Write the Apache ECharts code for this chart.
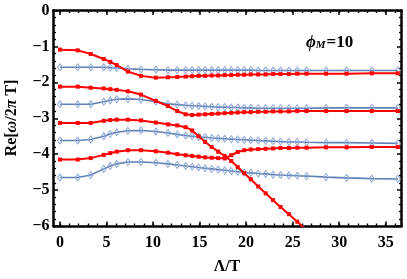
<!DOCTYPE html>
<html>
<head>
<meta charset="utf-8">
<script src="https://cdn.jsdelivr.net/npm/echarts@6/dist/echarts.min.js"></script>
<style>html,body{margin:0;padding:0;background:#fff}#c{width:407px;height:279px}</style>
</head>
<body>
<div id="c"></div>
<script>
const xValues = [0, 1.9, 3.3, 4.7, 5.4, 6.1, 7.3, 8.7, 10.3, 11.6, 12.6, 13.5, 14.2, 14.9, 15.6, 16.3, 17.0, 17.7, 18.4, 19.1, 19.8, 20.5, 21.3, 22.1, 22.9, 23.7, 24.6, 25.5, 26.5, 28.6, 30.8, 33.5, 36.3];

const blue1 = [-1.58,-1.58,-1.58,-1.58,-1.59,-1.60,-1.62,-1.64,-1.65,-1.66,-1.66,-1.66,-1.66,-1.66,-1.66,-1.66,-1.66,-1.66,-1.66,-1.66,-1.66,-1.66,-1.67,-1.67,-1.67,-1.67,-1.67,-1.67,-1.67,-1.67,-1.67,-1.67,-1.67];
const red1 = [-1.09,-1.11,-1.21,-1.35,-1.43,-1.52,-1.70,-1.82,-1.87,-1.86,-1.85,-1.84,-1.83,-1.82,-1.82,-1.81,-1.81,-1.80,-1.80,-1.79,-1.79,-1.78,-1.78,-1.78,-1.77,-1.77,-1.77,-1.76,-1.76,-1.76,-1.76,-1.75,-1.75];
const blue2 = [-2.61,-2.61,-2.61,-2.54,-2.50,-2.47,-2.46,-2.48,-2.54,-2.60,-2.62,-2.64,-2.65,-2.66,-2.67,-2.68,-2.69,-2.69,-2.70,-2.70,-2.71,-2.71,-2.72,-2.72,-2.72,-2.72,-2.72,-2.72,-2.72,-2.71,-2.71,-2.71,-2.71];
const red2 = [-2.12,-2.12,-2.15,-2.17,-2.19,-2.21,-2.25,-2.34,-2.52,-2.66,-2.80,-2.89,-2.91,-2.90,-2.89,-2.88,-2.87,-2.86,-2.85,-2.84,-2.83,-2.83,-2.82,-2.82,-2.81,-2.81,-2.81,-2.80,-2.80,-2.80,-2.80,-2.80,-2.80];
const blue3 = [-3.62,-3.62,-3.59,-3.50,-3.44,-3.39,-3.35,-3.34,-3.37,-3.41,-3.45,-3.48,-3.50,-3.52,-3.53,-3.55,-3.56,-3.57,-3.58,-3.59,-3.60,-3.61,-3.62,-3.63,-3.64,-3.65,-3.66,-3.66,-3.67,-3.68,-3.68,-3.69,-3.70];
const red3 = [-3.13,-3.13,-3.13,-3.07,-3.05,-3.04,-3.04,-3.06,-3.12,-3.17,-3.20,-3.25,-3.34,-3.50,-3.66,-3.80,-3.93,-4.05,-4.19,-4.36,-4.53,-4.70,-4.90,-5.09,-5.28,-5.47,-5.67,-5.88,-6.12,null,null,null,null];
const blue4 = [-4.65,-4.65,-4.58,-4.41,-4.33,-4.27,-4.22,-4.22,-4.24,-4.27,-4.30,-4.33,-4.35,-4.37,-4.39,-4.41,-4.43,-4.45,-4.47,-4.49,-4.51,-4.52,-4.54,-4.55,-4.57,-4.58,-4.59,-4.60,-4.61,-4.64,-4.66,-4.68,-4.69];
const red4 = [-4.15,-4.15,-4.11,-4.02,-3.97,-3.93,-3.89,-3.89,-3.92,-3.96,-4.00,-4.03,-4.05,-4.07,-4.09,-4.10,-4.11,-4.12,-4.03,-3.94,-3.89,-3.87,-3.86,-3.85,-3.84,-3.83,-3.83,-3.82,-3.82,-3.81,-3.81,-3.80,-3.80];

const xMajorTicks = [0, 5, 10, 15, 20, 25, 30, 35];
const xMinorTicks = [0,1,2,3,4,5,6,7,8,9,10,11,12,13,14,15,16,17,18,19,20,21,22,23,24,25,26,27,28,29,30,31,32,33,34,35,36];
const yTickLabels = [0, -1, -2, -3, -4, -5, -6];

const FONT = 'Liberation Serif';
const pair = ys => xValues.map((x, i) => [x, ys[i]]);

const blueSeries = ys => ({
  type: 'line', data: pair(ys), xAxisIndex: 0, yAxisIndex: 0,
  symbol: 'diamond', symbolSize: [5, 7], showAllSymbol: true,
  lineStyle: { color: '#5E81B5', width: 1.6 },
  itemStyle: { color: 'rgba(255,255,255,0)', borderColor: '#8FA8D8', borderWidth: 1 },
  z: 2, animation: false, clip: true
});
const redSeries = ys => ({
  type: 'line', data: pair(ys), xAxisIndex: 0, yAxisIndex: 0,
  symbol: 'rect', symbolSize: 4, showAllSymbol: true,
  lineStyle: { color: '#FF0000', width: 2 },
  itemStyle: { color: '#FF0000' },
  z: 3, animation: false, clip: true
});

const xAxisBase = {
  type: 'value', min: -0.7, max: 36.7, splitLine: { show: false }
};
const FRAME_W = 2.5;
const chart = echarts.init(document.getElementById('c'), null, { renderer: 'canvas' });
chart.setOption({
  backgroundColor: '#fff',
  animation: false,
  grid: { left: 53.5, right: 5.5, top: 10.5, bottom: 53, containLabel: false },
  xAxis: [
    Object.assign({}, xAxisBase, {
      position: 'bottom',
      axisLine: { show: true, onZero: false, lineStyle: { color: '#000', width: FRAME_W } },
      axisTick: { show: true, inside: true, length: 4.5, customValues: xMajorTicks, lineStyle: { color: '#000', width: 1.5 } },
      axisLabel: { show: true, customValues: xMajorTicks, margin: 9, color: '#000', fontFamily: FONT, fontWeight: 'bold', fontSize: 16 }
    }),
    Object.assign({}, xAxisBase, {
      position: 'bottom',
      axisLine: { show: false, onZero: false },
      axisTick: { show: true, inside: true, length: 2.5, customValues: xMinorTicks, lineStyle: { color: '#000', width: 1.4 } },
      axisLabel: { show: false }
    }),
    Object.assign({}, xAxisBase, {
      position: 'top',
      axisLine: { show: true, onZero: false, lineStyle: { color: '#000', width: FRAME_W } },
      axisTick: { show: true, inside: true, length: 4.5, customValues: xMajorTicks, lineStyle: { color: '#000', width: 1.5 } },
      axisLabel: { show: false }
    }),
    Object.assign({}, xAxisBase, {
      position: 'top',
      axisLine: { show: false, onZero: false },
      axisTick: { show: true, inside: true, length: 2.5, customValues: xMinorTicks, lineStyle: { color: '#000', width: 1.4 } },
      axisLabel: { show: false }
    })
  ],
  yAxis: [
    {
      type: 'value', min: -6, max: 0, interval: 1, position: 'left',
      splitLine: { show: false },
      axisLine: { show: true, onZero: false, lineStyle: { color: '#000', width: FRAME_W } },
      axisTick: { show: true, inside: true, length: 4.5, lineStyle: { color: '#000', width: 1.5 } },
      minorTick: { show: true, splitNumber: 5, length: 2.5, lineStyle: { color: '#000', width: 1.4 } },
      axisLabel: {
        show: true, margin: 4, color: '#000', fontFamily: FONT, fontWeight: 'bold', fontSize: 16,
        formatter: v => (yTickLabels.indexOf(v) >= 0 ? (v < 0 ? '\u2212' + (-v) : String(v)) : '')
      }
    },
    {
      type: 'value', min: -6, max: 0, interval: 1, position: 'right',
      splitLine: { show: false },
      axisLine: { show: true, onZero: false, lineStyle: { color: '#000', width: FRAME_W } },
      axisTick: { show: true, inside: true, length: 4.5, lineStyle: { color: '#000', width: 1.5 } },
      minorTick: { show: true, splitNumber: 5, length: 2.5, lineStyle: { color: '#000', width: 1.4 } },
      axisLabel: { show: false }
    }
  ],
  graphic: [
    {
      type: 'text', x: 12, y: 118, rotation: Math.PI / 2,
      style: {
        text: '{n|Re[}{i|\u03C9}{n|/2}{i|\u03C0}{n| T]}',
        textAlign: 'center', textVerticalAlign: 'middle',
        rich: {
          n: { fontFamily: FONT, fontWeight: 'bold', fontSize: 16, fill: '#000' },
          i: { fontFamily: FONT, fontWeight: 'bold', fontStyle: 'italic', fontSize: 16, fill: '#000' }
        }
      }
    },
    {
      type: 'text', x: 227, y: 259,
      style: {
        text: '\u039B/T', fill: '#000',
        font: 'bold 16px "Liberation Serif"',
        textAlign: 'center', textVerticalAlign: 'top'
      }
    },
    {
      type: 'text', x: 306, y: 41,
      style: {
        text: '{p|\u03D5}{s|M}{n|=10}',
        textAlign: 'left', textVerticalAlign: 'middle',
        rich: {
          p: { fontFamily: FONT, fontWeight: 'bold', fontStyle: 'italic', fontSize: 17, fill: '#000', lineHeight: 20, verticalAlign: 'bottom' },
          s: { fontFamily: FONT, fontWeight: 'bold', fontStyle: 'italic', fontSize: 11, fill: '#000', lineHeight: 20, verticalAlign: 'bottom', padding: [0, 1, 0, 0] },
          n: { fontFamily: FONT, fontWeight: 'bold', fontSize: 17, fill: '#000', lineHeight: 20, verticalAlign: 'bottom' }
        }
      }
    }
  ],
  series: [
    blueSeries(blue1), blueSeries(blue2), blueSeries(blue3), blueSeries(blue4),
    redSeries(red1), redSeries(red2), redSeries(red3), redSeries(red4)
  ]
});
</script>
</body>
</html>
